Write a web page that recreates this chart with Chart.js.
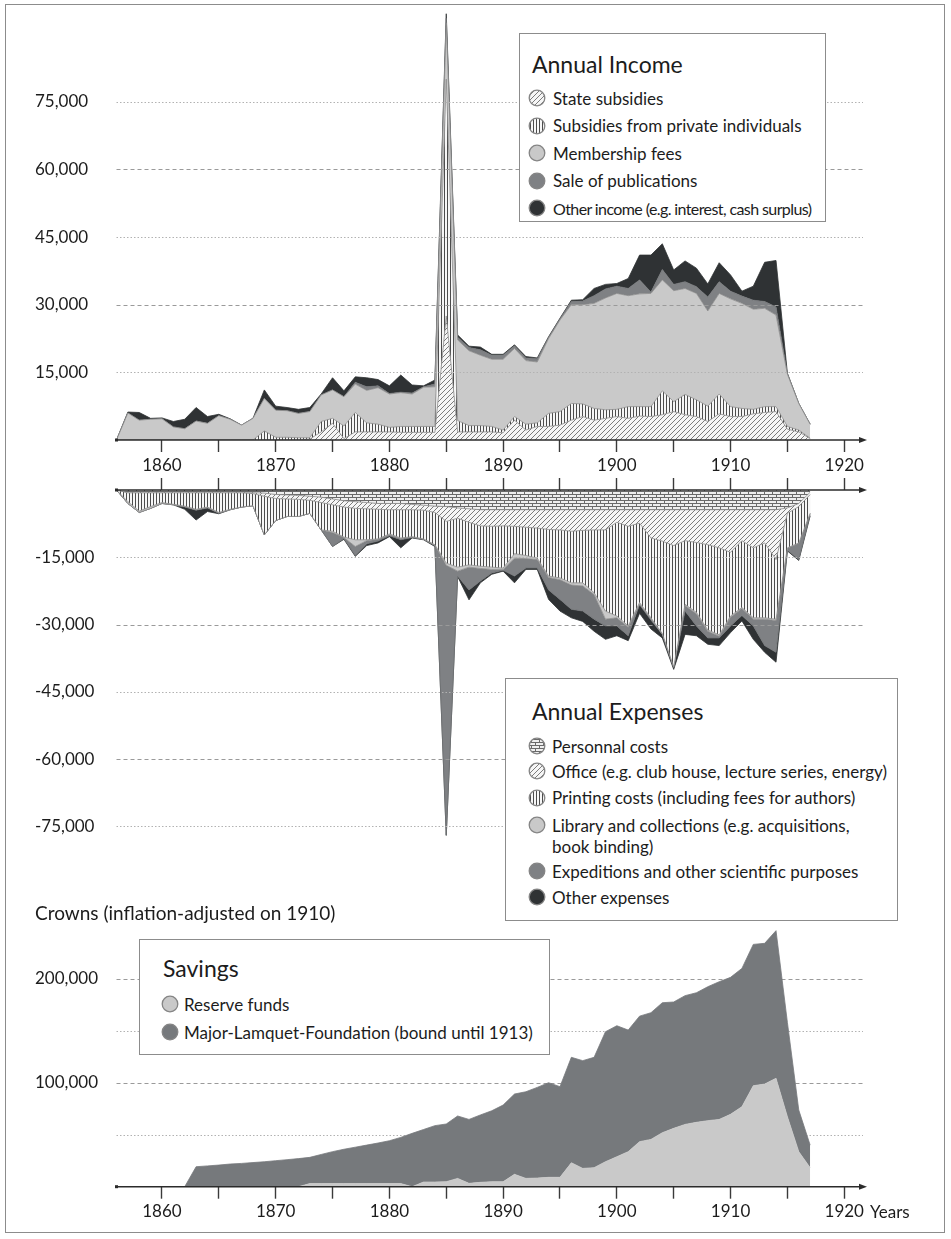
<!DOCTYPE html>
<html>
<head>
<meta charset="utf-8">
<script src="https://cdn.jsdelivr.net/npm/chart.js@4.4.1/dist/chart.umd.min.js"></script>
<style>
  body { margin: 0; background: #fff; font-family: Lato, "Open Sans", sans-serif; color: #1c1c1c; }
  #page { position: relative; width: 951px; height: 1239px; overflow: hidden; background: #fff; }
  #page canvas { position: absolute; left: 0; z-index: 1; }
  #frame { position: absolute; left: 5px; top: 4px; width: 938px; height: 1227px; border: 1.5px solid #8c8c8c; z-index: 3; pointer-events: none; }
  .legend { position: absolute; background: #fff; border: 1.5px solid #8c8c8c; box-sizing: border-box; z-index: 2; }
  .legend .title { position: absolute; font-size: 23px; line-height: 28px; white-space: nowrap; }
  .legend .item { position: absolute; font-size: 17px; line-height: 21px; white-space: pre; }
  .legend .item.tight { font-size: 16px; letter-spacing: -0.6px; }
  .legend canvas.icon { position: absolute; }
  .note { position: absolute; z-index: 2; white-space: nowrap; }
</style>
</head>
<body>
<div id="page">
  <canvas id="incomeChart" width="951" height="480" style="top:0px"></canvas>
  <canvas id="expenseChart" width="951" height="380" style="top:470px"></canvas>
  <canvas id="savingsChart" width="951" height="339" style="top:900px"></canvas>
  <div class="legend" id="incomeLegend" style="left:519px;top:33px;width:307px;height:189px"></div>
  <div class="legend" id="expenseLegend" style="left:505px;top:678px;width:393px;height:243px"></div>
  <div class="legend" id="savingsLegend" style="left:139px;top:939px;width:411px;height:116px"></div>
  <div class="note" style="left:35px;top:900px;font-size:19px;line-height:26px">Crowns (inflation-adjusted on 1910)</div>
  <div class="note" style="left:870px;top:1201px;font-size:17px;line-height:22px">Years</div>
  <div id="frame"></div>
</div>
<script>
// ---- data (crowns, inflation-adjusted on 1910) ----
const years = [1856, 1857, 1858, 1859, 1860, 1861, 1862, 1863, 1864, 1865, 1866, 1867, 1868, 1869, 1870,
  1871, 1872, 1873, 1874, 1875, 1876, 1877, 1878, 1879, 1880, 1881, 1882, 1883, 1884, 1885, 1886, 1887,
  1888, 1889, 1890, 1891, 1892, 1893, 1894, 1895, 1896, 1897, 1898, 1899, 1900, 1901, 1902, 1903, 1904,
  1905, 1906, 1907, 1908, 1909, 1910, 1911, 1912, 1913, 1914, 1915, 1916, 1917];

const stateSubsidies = [0, 0, 0, 0, 0, 0, 0, 0, 0, 0, 0, 0, 0, 0, 0, 0, 0, 200, 1800, 3700, 300, 1800,
  1800, 1800, 1800, 1700, 1700, 1700, 1700, 27500, 1800, 1800, 1800, 1800, 1600, 4400, 2200, 3000, 3000,
  3300, 4400, 5200, 4400, 4800, 5200, 4800, 5300, 5200, 5600, 6300, 5600, 5200, 4100, 5800, 5200, 5200,
  5800, 6100, 6300, 2400, 1800, 300];
const privateSubsidies = [0, 0, 0, 0, 0, 0, 0, 0, 0, 0, 0, 0, 0, 2000, 600, 600, 500, 300, 2300, 1100,
  2800, 4300, 2000, 1700, 1000, 1300, 1300, 1300, 1300, 52500, 2500, 1400, 1400, 1200, 600, 800, 1300,
  800, 2900, 3000, 3700, 2800, 2600, 1900, 1600, 2600, 2100, 2200, 5300, 2200, 4500, 3700, 3400, 4400,
  2200, 1800, 1000, 1300, 1100, 600, 400, 100];
const membershipFees = [0, 6000, 4400, 4600, 4700, 2900, 2500, 4200, 3700, 5400, 4600, 3300, 4800, 7200,
  6000, 5900, 5400, 5800, 5900, 6300, 6500, 6300, 7200, 8100, 7400, 7500, 7200, 8700, 8800, 12500, 17900,
  16600, 15600, 14900, 15700, 15100, 14100, 13500, 16600, 20300, 21900, 22000, 23300, 24800, 25700, 24600,
  25000, 25100, 24600, 24600, 23500, 23600, 21100, 22300, 23900, 23300, 22200, 21800, 20300, 11600, 5900,
  3100];
const publicationSales = [0, 0, 0, 0, 0, 0, 0, 0, 0, 0, 0, 0, 0, 0, 0, 0, 0, 0, 0, 0, 0, 400, 800, 400,
  100, 100, 200, 100, 600, 1000, 600, 700, 1200, 900, 900, 600, 600, 700, 300, 300, 700, 800, 1700, 2000,
  1600, 1600, 3100, 300, 2300, 1400, 1500, 1500, 3100, 2600, 1700, 1600, 2000, 1500, 1800, 100, 0, 0];
const otherIncome = [0, 200, 1700, 200, 200, 1200, 2100, 3000, 1500, 300, 100, 0, 0, 1900, 900, 700, 900,
  900, 200, 2700, 1300, 1200, 2000, 1400, 1700, 3800, 1800, 200, 900, 1000, 500, 300, 600, 200, 200, 200,
  300, 200, 100, 100, 300, 300, 1600, 1000, 600, 2200, 5500, 8200, 5700, 3200, 4600, 4100, 2900, 4200,
  3600, 1100, 3100, 8700, 10300, 100, 0, 0];

const personnelCosts = [0, -600, -600, -600, -600, -600, -600, -600, -600, -600, -600, -600, -600, -700,
  -1000, -1100, -1200, -1400, -1600, -2000, -2400, -2600, -2800, -3000, -3000, -3000, -3200, -3400, -3600,
  -3700, -4000, -4200, -4400, -4400, -4400, -4400, -4400, -4400, -4400, -4400, -4400, -4400, -4400, -4400,
  -4400, -4400, -4400, -4400, -4400, -4400, -4400, -4400, -4400, -4400, -4400, -4400, -4400, -4400, -4400,
  -4000, -3000, -500];
const officeCosts = [0, 0, 0, 0, 0, 0, 0, 0, 0, 0, 0, 0, -200, -700, -900, -900, -900, -900, -1200, -1300,
  -1400, -1500, -1400, -1300, -1400, -1400, -1200, -1100, -1400, -3300, -2300, -3000, -3600, -3700, -3600,
  -3700, -3900, -4100, -4400, -4500, -4800, -4600, -4500, -4500, -2800, -3700, -3000, -6300, -7000, -8000,
  -6900, -7300, -7800, -8500, -9500, -6900, -8500, -7400, -11100, -1200, -700, -500];
const printingCosts = [0, -2000, -4100, -3100, -2200, -2600, -3000, -3700, -3200, -4400, -3700, -3200,
  -2700, -8600, -4900, -3900, -3800, -2900, -6100, -5900, -6700, -7000, -6900, -6600, -5400, -6300, -6000,
  -6400, -7200, -9300, -10900, -9500, -9000, -9100, -9400, -6100, -6300, -6700, -10400, -10700, -11500,
  -11700, -14000, -18100, -20900, -22200, -17700, -17800, -20600, -27000, -14200, -15600, -19000, -19400,
  -14200, -14900, -15600, -16700, -13300, -7700, -8100, -4200];
const libraryCosts = [0, -400, -300, -400, -200, -100, -100, -100, -100, -100, -100, 0, 0, 0, 0, 0, 0, 0,
  0, -300, -100, -1500, -200, -100, -200, -100, -100, -100, -100, -500, -900, -500, -500, -500, -300,
  -1000, -700, -300, -300, -400, -500, -700, -400, -1800, -400, -300, -300, -200, -100, -100, -300, -300,
  -300, -300, -300, -200, -300, -300, -300, -100, -100, 0];
const expeditionCosts = [0, 0, 0, 0, 0, 0, -100, -100, -100, -100, 0, 0, 0, 0, 0, 0, 0, 0, 0, -3100, -200,
  -2000, -700, -400, -200, -300, -100, 0, -100, -60200, -1100, -5100, -2800, -800, -200, -4000, -2100,
  -1900, -2800, -4400, -5400, -5600, -5500, -1500, -1800, -1900, -200, -300, -100, -100, -1200, -2700,
  -1500, -400, -1900, -1600, -1500, -5900, -7100, -400, -3600, -300];
const otherExpenses = [0, 0, 0, 0, 0, 0, -500, -2200, -800, -100, 0, 0, 0, 0, 0, 0, 0, 0, 0, 0, -200,
  -200, -400, -400, -200, -1800, -100, -100, -200, 0, -100, -2200, -400, -300, -200, -1500, -300, -300,
  -2100, -2600, -1900, -2300, -2700, -3000, -2200, -1100, -1900, -2000, -800, -400, -5200, -2200, -1400,
  -1700, -1500, -1200, -3000, -1500, -2200, -200, -200, -300];

const savingsYears = [1862, 1863, 1864, 1865, 1866, 1867, 1868, 1869, 1870, 1871, 1872, 1873, 1874, 1875,
  1876, 1877, 1878, 1879, 1880, 1881, 1882, 1883, 1884, 1885, 1886, 1887, 1888, 1889, 1890, 1891, 1892,
  1893, 1894, 1895, 1896, 1897, 1898, 1899, 1900, 1901, 1902, 1903, 1904, 1905, 1906, 1907, 1908, 1909,
  1910, 1911, 1912, 1913, 1914, 1915, 1916, 1917];
const reserveFunds = [0, 0, 0, 0, 0, 0, 0, 0, 0, 0, 0, 3000, 3000, 3000, 3000, 3000, 3000, 3000, 3000,
  3000, 0, 4500, 4500, 4800, 8000, 3200, 4200, 4800, 4800, 11900, 8000, 8300, 9000, 9000, 23000, 17600,
  18300, 24000, 28800, 33700, 43300, 45500, 51900, 56100, 59900, 61900, 63500, 64700, 69600, 76900,
  97100, 98700, 104200, 67300, 33700, 18300];
const foundationFunds = [0, 19200, 20000, 20800, 21800, 22400, 23200, 24000, 25000, 26000, 27000, 25200,
  28000, 30700, 33000, 35000, 37000, 39000, 41200, 44400, 51300, 50500, 54200, 55500, 60000, 61500, 64800,
  68200, 73700, 77200, 83300, 87200, 91000, 87200, 101400, 103600, 106100, 125000, 126000, 116900, 120700,
  121800, 125000, 121500, 123800, 124600, 128800, 132400, 131700, 133000, 135900, 135300, 142000, 90700,
  40000, 21700];

const xTickYears = [1860, 1865, 1870, 1875, 1880, 1885, 1890, 1895, 1900, 1905, 1910, 1915, 1920];
const incomeTicks = [15000, 30000, 45000, 60000, 75000];
const expenseTicks = [-75000, -60000, -45000, -30000, -15000];
const savingsTicks = [50000, 100000, 150000, 200000];

const incomeLabels = ["State subsidies", "Subsidies from private individuals", "Membership fees",
  "Sale of publications", "Other income (e.g. interest, cash surplus)"];
const expenseLabels = ["Personnal costs", "Office (e.g. club house, lecture series, energy)",
  "Printing costs (including fees for authors)", "Library and collections (e.g. acquisitions,\nbook binding)",
  "Expeditions and other scientific purposes", "Other expenses"];
const savingsLabels = ["Reserve funds", "Major-Lamquet-Foundation (bound until 1913)"];

// ---- fills ----
function makePattern(kind) {
  const c = document.createElement("canvas");
  const g = c.getContext("2d");
  if (kind === "diag") {
    c.width = 5; c.height = 5;
    g.fillStyle = "#f6f6f6"; g.fillRect(0, 0, 5, 5);
    g.strokeStyle = "#7c7c7c"; g.lineWidth = 1;
    g.beginPath();
    g.moveTo(-1, 6); g.lineTo(6, -1);
    g.moveTo(-1, 1); g.lineTo(1, -1);
    g.moveTo(4, 6); g.lineTo(6, 4);
    g.stroke();
  } else if (kind === "vert") {
    c.width = 3; c.height = 2;
    g.fillStyle = "#f7f7f7"; g.fillRect(0, 0, 3, 2);
    g.fillStyle = "#4c4c4c"; g.fillRect(0, 0, 1, 2);
  } else {
    c.width = 8; c.height = 6;
    g.fillStyle = "#efefef"; g.fillRect(0, 0, 8, 6);
    g.fillStyle = "#6a6a6a";
    g.fillRect(0, 0, 8, 1); g.fillRect(0, 3, 8, 1);
    g.fillRect(0, 0, 1, 3); g.fillRect(4, 3, 1, 3);
  }
  return g.createPattern(c, "repeat");
}

const diagFill = makePattern("diag");
const vertFill = makePattern("vert");
const brickFill = makePattern("brick");
const lightGray = "#c9c9c9";
const midGray = "#7f8184";
const darkGray = "#2f3234";
const edge = "#8a8a8a";

function layer(label, xs, values, fill, bg, border) {
  return {
    label,
    data: xs.map((x, i) => ({ x, y: values[i] })),
    fill,
    backgroundColor: bg,
    borderColor: border,
    borderWidth: 0.8,
    pointRadius: 0,
    tension: 0,
  };
}

// ---- axes decoration: dashed / dotted grid, axis with arrow ----
function drawGridLines(chart, o) {
  const { ctx, chartArea, scales } = chart;
  ctx.save();
  scales.y.ticks.forEach((t) => {
    const py = Math.round(scales.y.getPixelForValue(t.value)) + 0.5;
    const dashed = t.value % o.dashEvery === 0;
    ctx.setLineDash(dashed ? [4, 3] : [1.5, 2]);
    ctx.strokeStyle = dashed ? "#9a9a9a" : "#b2b2b2";
    ctx.lineWidth = 1;
    ctx.beginPath();
    ctx.moveTo(chartArea.left, py);
    ctx.lineTo(chartArea.right - 4, py);
    ctx.stroke();
  });
  ctx.restore();
}

function drawAxisLine(chart, o) {
  const { ctx, chartArea } = chart;
  const y = o.axisAt === "top" ? chartArea.top : chartArea.bottom;
  ctx.save();
  ctx.strokeStyle = "#2b2b2b";
  ctx.fillStyle = "#2b2b2b";
  ctx.lineWidth = 1.5;
  ctx.beginPath();
  ctx.moveTo(chartArea.left, y);
  ctx.lineTo(chartArea.right - 6, y);
  ctx.stroke();
  ctx.beginPath();
  ctx.moveTo(chartArea.right, y);
  ctx.lineTo(chartArea.right - 8, y - 3);
  ctx.lineTo(chartArea.right - 8, y + 3);
  ctx.closePath();
  ctx.fill();
  ctx.fillRect(chartArea.left - 1.5, y - 1.5, 3, 3);
  ctx.restore();
}

const axisDecor = {
  id: "axisDecor",
  beforeDatasetsDraw(chart, args, o) {
    if (!o.gridOnTop) drawGridLines(chart, o);
  },
  afterDatasetsDraw(chart, args, o) {
    if (o.gridOnTop) drawGridLines(chart, o);
    drawAxisLine(chart, o);
  },
};

function buildChart(id, datasets, cfg) {
  const tickFont = { family: "Lato", size: 17 };
  return new Chart(document.getElementById(id), {
    type: "line",
    data: { datasets },
    options: {
      responsive: false,
      animation: false,
      devicePixelRatio: 1,
      layout: { padding: cfg.padding },
      plugins: {
        legend: { display: false },
        tooltip: { enabled: false },
        axisDecor: cfg.decor,
      },
      scales: {
        x: {
          type: "linear",
          position: cfg.xPosition,
          min: 1856,
          max: 1922,
          afterBuildTicks: (s) => { s.ticks = xTickYears.map((v) => ({ value: v })); },
          afterFit: (s) => { s.height = cfg.xHeight; },
          border: { display: false },
          grid: { drawOnChartArea: false, drawTicks: true, tickLength: 12, tickColor: "#3a3a3a", tickWidth: 1.4 },
          ticks: {
            autoSkip: false,
            maxRotation: 0,
            padding: 3,
            color: "#1c1c1c",
            font: tickFont,
            callback: (v) => (cfg.xLabels && v % 10 === 0 ? String(v) : ""),
          },
        },
        y: {
          stacked: true,
          min: cfg.yMin,
          max: cfg.yMax,
          afterBuildTicks: (s) => { s.ticks = cfg.yTicks.map((v) => ({ value: v })); },
          afterFit: (s) => { s.width = 116.5 - cfg.padding.left; },
          border: { display: false },
          grid: { display: false },
          ticks: {
            crossAlign: "far",
            padding: 0,
            color: "#1c1c1c",
            font: tickFont,
            callback: (v) => (v % cfg.labelEvery === 0 ? v.toLocaleString("en-US") : ""),
          },
        },
      },
    },
    plugins: [axisDecor],
  });
}

function buildLegend(id, title, titlePos, labels, fills, rows, iconX, textX) {
  const box = document.getElementById(id);
  const t = document.createElement("div");
  t.className = "title";
  t.textContent = title;
  t.style.left = titlePos[0] + "px";
  t.style.top = titlePos[1] - 14 + "px";
  box.appendChild(t);
  labels.forEach((label, i) => {
    const icon = document.createElement("canvas");
    icon.className = "icon";
    icon.width = 20; icon.height = 20;
    icon.style.left = iconX - 10 + "px";
    icon.style.top = rows[i] - 10 + "px";
    const g = icon.getContext("2d");
    g.beginPath();
    g.arc(10, 10, 7.8, 0, Math.PI * 2);
    g.fillStyle = fills[i];
    g.fill();
    g.lineWidth = 1.3;
    g.strokeStyle = "#858585";
    g.stroke();
    box.appendChild(icon);
    const item = document.createElement("div");
    item.className = "item";
    if (label.length > 40 && label.indexOf("\n") < 0 && id === "incomeLegend") item.classList.add("tight");
    item.textContent = label;
    item.style.left = textX + "px";
    item.style.top = rows[i] - 10.5 + "px";
    box.appendChild(item);
  });
}

function build() {
  buildChart("incomeChart", [
    layer(incomeLabels[0], years, stateSubsidies, "origin", diagFill, edge),
    layer(incomeLabels[1], years, privateSubsidies, "-1", vertFill, edge),
    layer(incomeLabels[2], years, membershipFees, "-1", lightGray, edge),
    layer(incomeLabels[3], years, publicationSales, "-1", midGray, "#6f7173"),
    layer(incomeLabels[4], years, otherIncome, "-1", darkGray, darkGray),
  ], {
    padding: { left: 35, right: 84, top: 11.5, bottom: 0 },
    xPosition: "bottom", xHeight: 40, xLabels: true,
    yMin: 0, yMax: 95000, yTicks: incomeTicks, labelEvery: 15000,
    decor: { gridOnTop: true, dashEvery: 30000, axisAt: "bottom" },
  });

  buildChart("expenseChart", [
    layer(expenseLabels[0], years, personnelCosts, "origin", brickFill, edge),
    layer(expenseLabels[1], years, officeCosts, "-1", diagFill, edge),
    layer(expenseLabels[2], years, printingCosts, "-1", vertFill, edge),
    layer(expenseLabels[3], years, libraryCosts, "-1", lightGray, edge),
    layer(expenseLabels[4], years, expeditionCosts, "-1", midGray, "#6f7173"),
    layer(expenseLabels[5], years, otherExpenses, "-1", darkGray, darkGray),
  ], {
    padding: { left: 35, right: 84, top: 0, bottom: 8.2 },
    xPosition: "top", xHeight: 20, xLabels: false,
    yMin: -78000, yMax: 0, yTicks: expenseTicks, labelEvery: 15000,
    decor: { gridOnTop: true, dashEvery: 30000, axisAt: "top" },
  });

  buildChart("savingsChart", [
    layer(savingsLabels[0], savingsYears, reserveFunds, "origin", "#c9c9c9", "#c9c9c9"),
    layer(savingsLabels[1], savingsYears, foundationFunds, "-1", "#76797c", "#76797c"),
  ], {
    padding: { left: 35, right: 84, top: 16.3, bottom: 12.3 },
    xPosition: "bottom", xHeight: 40, xLabels: true,
    yMin: 0, yMax: 260000, yTicks: savingsTicks, labelEvery: 100000,
    decor: { gridOnTop: false, dashEvery: 100000, axisAt: "bottom" },
  });

  buildLegend("incomeLegend", "Annual Income", [12, 30], incomeLabels,
    [diagFill, vertFill, lightGray, midGray, darkGray], [64, 91.5, 119, 146.5, 174], 17, 33);
  buildLegend("expenseLegend", "Annual Expenses", [26, 32], expenseLabels,
    [brickFill, diagFill, vertFill, lightGray, midGray, darkGray], [67, 92, 118.5, 146, 192, 218], 31, 46);
  buildLegend("savingsLegend", "Savings", [23, 28], savingsLabels,
    ["#c9c9c9", "#76797c"], [64, 92], 30, 44);
}

document.fonts.load("17px Lato").then(build, build);
</script>
</body>
</html>
